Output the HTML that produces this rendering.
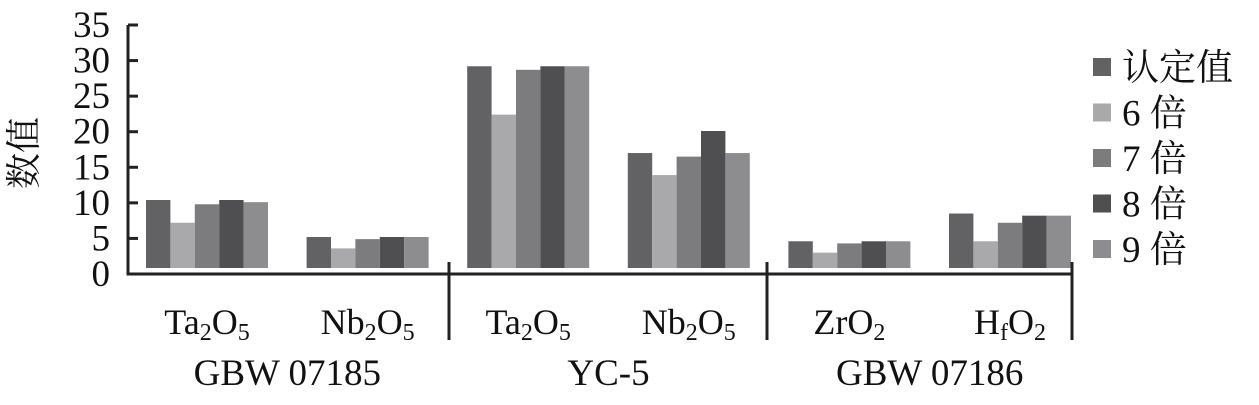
<!DOCTYPE html>
<html><head><meta charset="utf-8"><style>
body{margin:0;background:#fff;}
svg text{font-family:"Liberation Serif","Noto Serif CJK SC",serif;fill:#111;}
</style></head><body>
<svg id="chart" width="1259" height="400" viewBox="0 0 1259 400" xmlns="http://www.w3.org/2000/svg">
<g id="bars"></g>
<g id="axes"></g>
<g id="legend"></g>
</svg>
<script>
const categories = ["Ta2O5","Nb2O5","Ta2O5","Nb2O5","ZrO2","HfO2"];
const groups = ["GBW 07185","YC-5","GBW 07186"];
const seriesNames = ["认定值","6 倍","7 倍","8 倍","9 倍"];
const sCertified = [10.4, 5.2, 29.2, 17.0, 4.6, 8.5];
const s6 = [7.2, 3.6, 22.4, 13.9, 3.0, 4.6];
const s7 = [9.8, 4.9, 28.7, 16.5, 4.3, 7.2];
const s8 = [10.4, 5.2, 29.2, 20.1, 4.6, 8.2];
const s9 = [10.1, 5.2, 29.2, 17.0, 4.6, 8.2];
const yTicks = [0,5,10,15,20,25,30,35];

const series = [sCertified, s6, s7, s8, s9];
const colors = ["#626264","#a9a9ab","#7c7c7e","#4f4f51","#8d8d8f"];
const NS = "http://www.w3.org/2000/svg";
const axisX = 128, y0 = 274, y35 = 25, barBase = 268;
const yScale = v => y0 - (y0 - y35) * v / 35;
const groupStart = i => 146 + i * 160.6;
const barW = 24.4;
function mk(tag, attrs, parent, txt){const e=document.createElementNS(NS,tag);for(const k in attrs)e.setAttribute(k,attrs[k]);if(txt!==undefined)e.textContent=txt;parent.appendChild(e);return e;}
const gb = document.getElementById('bars');
series.forEach((s, si) => {
  s.forEach((v, ci) => {
    const r = mk('rect', {x: groupStart(ci) + si * barW, y: yScale(v), width: barW, height: barBase - yScale(v), fill: colors[si]}, gb);
    
    
  });
});
const ga = document.getElementById('axes');
const line = (x1,y1,x2,y2,n) => { const l = mk('line',{x1,y1,x2,y2,stroke:'#222','stroke-width':3},ga);   };
line(axisX, y35, axisX, y0 + 1.5, 'y-axis');
line(axisX - 1.5, y0, 1073, y0, 'x-axis');
yTicks.forEach(t => {
  line(axisX, yScale(t), axisX + 10, yScale(t), 'y-tick');
  const tx = mk('text', {x: 110, y: yScale(t) + 12, 'font-size': 37, 'text-anchor': 'end'}, ga, String(t));
  
  
});
[449, 767, 1072].forEach(x => line(x, 262, x, 340, 'group-separator'));
const yt = mk('text', {x: 0, y: 0, 'font-size': 36, 'text-anchor': 'middle', transform: 'translate(36,153) rotate(-90)'}, ga, '数值');


const subs = {"Ta2O5":["Ta","2","O","5"],"Nb2O5":["Nb","2","O","5"],"ZrO2":["ZrO","2"],"HfO2":["H","f","O","2"]};
categories.forEach((c, ci) => {
  const cx = groupStart(ci) + barW * 2.5;
  const t = mk('text', {x: cx, y: 334, 'font-size': 36, 'text-anchor': 'middle'}, ga);
  
  
  subs[c].forEach((p, pi) => {
    const isSub = (c === "ZrO2") ? pi === 1 : pi % 2 === 1;
    const ts = mk('tspan', isSub ? {'font-size': 24, dy: 6} : (pi > 0 ? {dy: -6} : {}), t, p);
  });
});
groups.forEach((g, gi) => {
  const cx = (groupStart(gi*2) + groupStart(gi*2+1) + barW*5) / 2;
  const t = mk('text', {x: cx, y: 385, 'font-size': 37, 'text-anchor': 'middle'}, ga, g);
  
  
});
const gl = document.getElementById('legend');
seriesNames.forEach((n, i) => {
  const cy = 67 + i * 45.5;
  const r = mk('rect', {x: 1093, y: cy - 9, width: 18, height: 18, fill: colors[i]}, gl);
  
  
  const t = mk('text', {x: 1122, y: cy + 13, 'font-size': 37}, gl, n);
  
  
});
</script>
</body></html>
